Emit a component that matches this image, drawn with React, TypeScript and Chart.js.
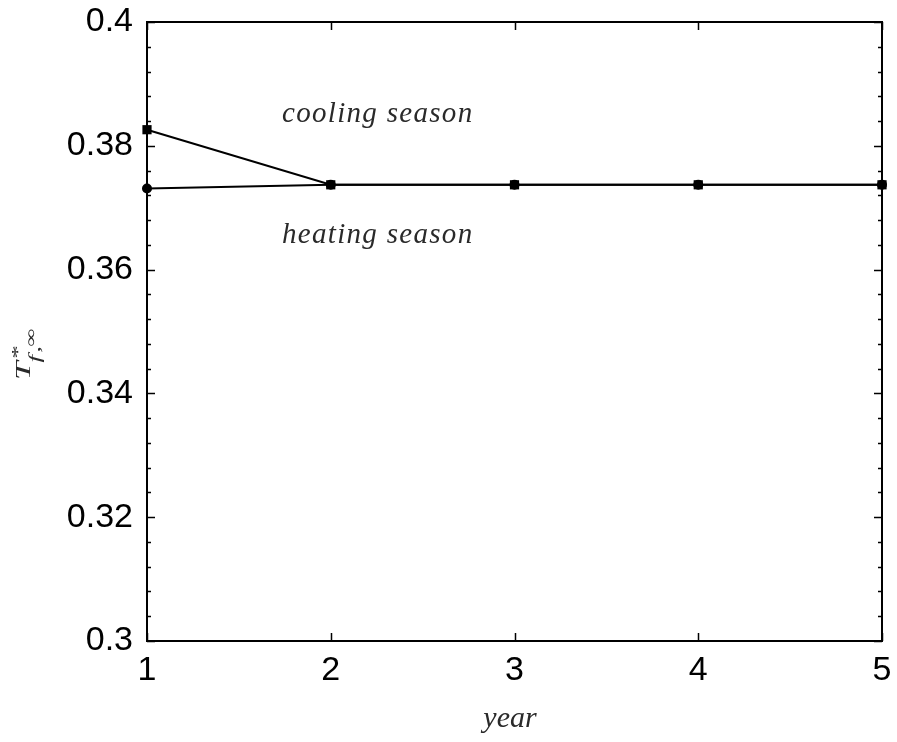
import React, { useEffect, useRef } from "react";
import { Chart, registerables } from "chart.js";

Chart.register(...registerables);

const years = [1, 2, 3, 4, 5];
const coolingSeason = [0.3826, 0.3737, 0.3737, 0.3737, 0.3737];
const heatingSeason = [0.3731, 0.3737, 0.3737, 0.3737, 0.3737];
const yMin = 0.3;
const yMax = 0.4;
const yStep = 0.004;
const yMajor = 0.02;
const annotations = [
  { text: "cooling season", x: 1.735, y: 0.38385 },
  { text: "heating season", x: 1.735, y: 0.36427 },
];
const xTitle = "year";

const isMajor = (v: number) => Math.abs(v / yMajor - Math.round(v / yMajor)) < 1e-6;

const framePlugin = {
  id: "frame",
  beforeDatasetsDraw(chart: any) {
    const { ctx, chartArea: a, scales } = chart;
    const xs = scales.x;
    const ys = scales.y;
    ctx.save();
    ctx.strokeStyle = "#000";
    ctx.lineWidth = 2;
    ctx.strokeRect(a.left, a.top, a.right - a.left, a.bottom - a.top);
    ctx.lineWidth = 1.5;
    ctx.beginPath();
    ys.ticks.forEach((t: any) => {
      const p = Math.round(ys.getPixelForValue(t.value)) + 0.5;
      const len = isMajor(t.value) ? 8 : 4;
      ctx.moveTo(a.left, p);
      ctx.lineTo(a.left + len, p);
      ctx.moveTo(a.right, p);
      ctx.lineTo(a.right - len, p);
    });
    xs.ticks.forEach((t: any) => {
      const p = Math.round(xs.getPixelForValue(t.value)) + 0.5;
      ctx.moveTo(p, a.bottom);
      ctx.lineTo(p, a.bottom - 8);
      ctx.moveTo(p, a.top);
      ctx.lineTo(p, a.top + 8);
    });
    ctx.stroke();

    // annotations
    ctx.fillStyle = "#2a2a2a";
    ctx.font = "italic 29px 'Liberation Serif', 'DejaVu Serif', serif";
    ctx.textAlign = "left";
    ctx.textBaseline = "alphabetic";
    annotations.forEach((an) => {
      const px = xs.getPixelForValue(an.x);
      const py = ys.getPixelForValue(an.y);
      (ctx as any).letterSpacing = "1.3px";
      ctx.fillText(an.text, px, py);
    });
    (ctx as any).letterSpacing = "0px";

    // x title
    ctx.textAlign = "center";
    ctx.font = "italic 30px 'Liberation Serif', serif";
    ctx.fillText(xTitle, 510, 727);

    // y title T*_{f,∞}
    ctx.save();
    ctx.translate(30, 380);
    ctx.rotate(-Math.PI / 2);
    ctx.scale(1.6, 1);
    ctx.textAlign = "left";
    ctx.font = "italic 21px 'Liberation Serif', serif";
    ctx.fillText("T", 0, 0);
    ctx.font = "italic 17px 'Liberation Serif', serif";
    ctx.fillText("*", 12.5, -7);
    ctx.fillText("f", 11, 10);
    ctx.fillText(",", 17, 10);
    ctx.font = "16px 'Liberation Serif', serif";
    ctx.fillText("\u221E", 21, 6);
    ctx.restore();

    ctx.restore();
  },
};

export default function App() {
  const ref = useRef<HTMLCanvasElement | null>(null);
  useEffect(() => {
    if (!ref.current) return;
    const chart = new Chart(ref.current, {
      type: "line",
      data: {
        datasets: [
          {
            label: "heating season",
            data: years.map((x, i) => ({ x, y: heatingSeason[i] })),
            borderColor: "#000",
            backgroundColor: "#000",
            borderWidth: 2,
            pointStyle: "circle",
            pointRadius: 5,
            pointBorderWidth: 0,
            clip: false,
            order: 2,
          },
          {
            label: "cooling season",
            data: years.map((x, i) => ({ x, y: coolingSeason[i] })),
            borderColor: "#000",
            backgroundColor: "#000",
            borderWidth: 2,
            pointStyle: "rect",
            pointRadius: 6.5,
            pointBorderWidth: 0,
            clip: false,
            order: 1,
          },
        ],
      },
      options: {
        animation: false,
        responsive: false,
        devicePixelRatio: 1,
        layout: { padding: { left: 0, top: 22, right: 15, bottom: 0 } },
        plugins: { legend: { display: false }, tooltip: { enabled: false } },
        scales: {
          x: {
            type: "linear",
            min: 1,
            max: 5,
            grid: { display: false, drawTicks: false },
            border: { display: false },
            ticks: {
              stepSize: 1,
              padding: 9,
              color: "#000",
              font: { family: "'Liberation Sans', Arial, sans-serif", size: 34 },
              maxRotation: 0,
              autoSkip: false,
            },
            afterFit: (s: any) => {
              s.height = 101;
              s.paddingLeft = 0;
              s.paddingRight = 0;
            },
          },
          y: {
            type: "linear",
            min: yMin,
            max: yMax,
            grid: { display: false, drawTicks: false },
            border: { display: false },
            ticks: {
              stepSize: yStep,
              padding: 14,
              color: "#000",
              autoSkip: false,
              font: { family: "'Liberation Sans', Arial, sans-serif", size: 34 },
              callback: (v: any) => (isMajor(Number(v)) ? String(+Number(v).toFixed(2)) : ""),
            },
            afterFit: (s: any) => {
              s.width = 147;
              s.paddingTop = 0;
              s.paddingBottom = 0;
            },
          },
        },
      },
      plugins: [framePlugin],
    });
    return () => chart.destroy();
  }, []);
  return (
    <div style={{ position: "absolute", left: 0, top: 0, width: 897, height: 742, background: "#fff" }}>
      <canvas ref={ref} width={897} height={742} style={{ display: "block" }} />
    </div>
  );
}
